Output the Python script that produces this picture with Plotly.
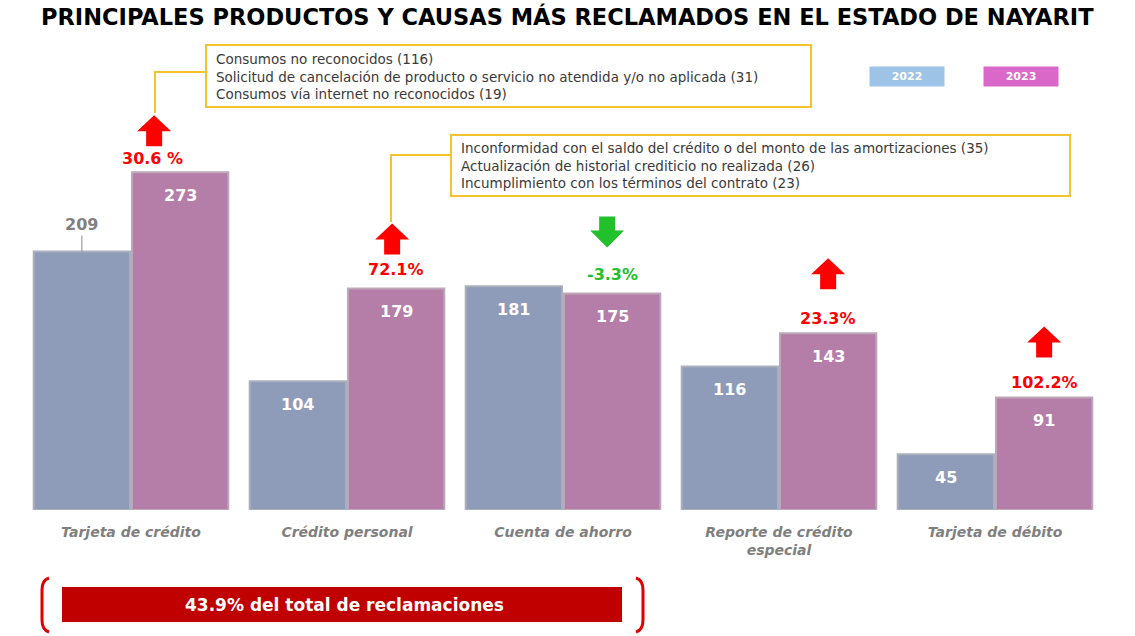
import plotly.graph_objects as go

# datos
productos = ["Tarjeta de crédito", "Crédito personal", "Cuenta de ahorro",
             "Reporte de crédito<br>especial", "Tarjeta de débito"]
reclamos_2022 = [209, 104, 181, 116, 45]
reclamos_2023 = [273, 179, 175, 143, 91]
variacion = ["30.6 %", "72.1%", "-3.3%", "23.3%", "102.2%"]
causas_tarjeta = ["Consumos no reconocidos (116)",
                  "Solicitud de cancelación de producto o servicio no atendida y/o no aplicada (31)",
                  "Consumos vía internet no reconocidos (19)"]
causas_personal = ["Inconformidad con el saldo del crédito o del monto de las amortizaciones (35)",
                   "Actualización de historial crediticio no realizada (26)",
                   "Incumplimiento con los términos del contrato (23)"]
total_txt = "43.9% del total de reclamaciones"

FONT = "DejaVu Sans"
W, H = 1135, 636
L, R, T, B = 23, 32, 40, 126
pw, ph = W - L - R, H - T - B

# ajustes de posición de flechas / porcentajes (pixeles)
pct_lift = [14, 19, 19, 15, 15]
arrow_lift = [26, 34, 46, 44, 40]
arrow_dx = [-26, -4, -5, 0, 0]


def px(x):
    return (x - L) / pw


def py(y):
    return (H - B - y) / ph


def flecha(dx, y0, arriba):
    # flecha de bloque, coordenadas en pixeles relativas al tope de la barra
    y1 = y0 + 31
    if arriba:
        pts = [(-8, y0), (8, y0), (8, y0 + 15), (17, y0 + 15), (0, y1), (-17, y0 + 15), (-8, y0 + 15)]
    else:
        pts = [(-8, y1), (8, y1), (8, y1 - 14), (17, y1 - 14), (0, y0), (-17, y1 - 14), (-8, y1 - 14)]
    return "M " + " L ".join(f"{x + dx},{y}" for x, y in pts) + " Z"


xs = list(range(len(productos)))
off = 0.2275

fig = go.Figure()
fig.add_trace(go.Bar(x=xs, y=reclamos_2022, name="2022", marker=dict(
    color="#8E9CB9", line=dict(color="#AAB0BC", width=2))))
fig.add_trace(go.Bar(x=xs, y=reclamos_2023, name="2023", marker=dict(
    color="#B57EA8", line=dict(color="#BDA8B8", width=2))))

ann = []
shapes = []

# etiquetas de valores
for i, (a, b) in enumerate(zip(reclamos_2022, reclamos_2023)):
    if i == 0:
        ann.append(dict(x=i - off, y=a, text=f"<b>{a}</b>", showarrow=True, arrowhead=0,
                        arrowcolor="#8C8C8C", arrowwidth=1, ax=0, ay=-27,
                        font=dict(size=16, color="#808080", family=FONT)))
    else:
        ann.append(dict(x=i - off, y=a, text=f"<b>{a}</b>", showarrow=False, yshift=-23,
                        font=dict(size=16, color="white", family=FONT)))
    ann.append(dict(x=i + off, y=b, text=f"<b>{b}</b>", showarrow=False, yshift=-23,
                    font=dict(size=16, color="white", family=FONT)))

    sube = b >= a
    col = "#FF0000" if sube else "#22C02A"
    ann.append(dict(x=i + off, y=b, text=f"<b>{variacion[i]}</b>", showarrow=False,
                    yshift=pct_lift[i], xshift=-28 if i == 0 else 0,
                    font=dict(size=16, color=col, family=FONT)))
    shapes.append(dict(type="path", xref="x", yref="y", xsizemode="pixel", ysizemode="pixel",
                       xanchor=i + off, yanchor=b, path=flecha(arrow_dx[i], arrow_lift[i], sube),
                       fillcolor=col, line=dict(width=0)))

# cuadros de causas
amarillo = "#F5C42C"
for (x0, y0, x1, y1), lines, (lx, ly, dx, dy) in [
        ((206, 45, 811, 107), causas_tarjeta, (206, 72, 155, 113)),
        ((451, 135, 1070, 196), causas_personal, (451, 155, 391, 222))]:
    shapes.append(dict(type="rect", xref="paper", yref="paper", x0=px(x0), x1=px(x1),
                       y0=py(y1), y1=py(y0), line=dict(color=amarillo, width=2),
                       fillcolor="white"))
    shapes.append(dict(type="path", xref="paper", yref="paper",
                       path=f"M {px(lx)},{py(ly)} L {px(dx)},{py(ly)} L {px(dx)},{py(dy)}",
                       line=dict(color=amarillo, width=2)))
    ann.append(dict(xref="paper", yref="paper", x=px(x0 + 8), y=py((y0 + y1) / 2),
                    xanchor="left", yanchor="middle", align="left", showarrow=False,
                    text="<br>".join(lines),
                    font=dict(size=13.5, color="#3A3A3A", family=FONT)))

# leyenda
for name, col, xc in [("2022", "#9DC3E6", 907), ("2023", "#D968C8", 1021)]:
    ann.append(dict(xref="paper", yref="paper", x=px(xc), y=py(77), text=f"<b>{name}</b>",
                    xanchor="center", yanchor="middle",
                    showarrow=False, bgcolor=col, width=72, height=17,
                    font=dict(size=11, color="white", family=FONT)))

# titulo
ann.append(dict(xref="paper", yref="paper", x=px(567), y=py(17), showarrow=False,
                xanchor="center", yanchor="middle",
                text="<b>PRINCIPALES PRODUCTOS Y CAUSAS MÁS RECLAMADOS EN EL ESTADO DE NAYARIT</b>",
                font=dict(size=22.5, color="black", family=FONT)))

# banda inferior
shapes.append(dict(type="rect", xref="paper", yref="paper", x0=px(62), x1=px(622),
                   y0=py(622), y1=py(587), fillcolor="#C00000", line=dict(width=0)))
ann.append(dict(xref="paper", yref="paper", x=px(344), y=py(605), showarrow=False,
                xanchor="center", yanchor="middle",
                text=f"<b>{total_txt}</b>", font=dict(size=17, color="white", family=FONT)))
shapes.append(dict(type="path", xref="paper", yref="paper",
                   path=f"M {px(49)},{py(578)} Q {px(42)},{py(580)} {px(42)},{py(590)} "
                        f"L {px(42)},{py(620)} Q {px(42)},{py(630)} {px(49)},{py(632)}",
                   line=dict(color="#E00000", width=3)))
shapes.append(dict(type="path", xref="paper", yref="paper",
                   path=f"M {px(636)},{py(578)} Q {px(643)},{py(580)} {px(643)},{py(590)} "
                        f"L {px(643)},{py(620)} Q {px(643)},{py(630)} {px(636)},{py(632)}",
                   line=dict(color="#E00000", width=3)))

fig.update_layout(
    width=W, height=H, margin=dict(l=L, r=R, t=T, b=B),
    paper_bgcolor="white", plot_bgcolor="white",
    barmode="group", bargap=0.09, bargroupgap=0.02,
    showlegend=False, annotations=ann, shapes=shapes,
    font=dict(family=FONT),
)
fig.update_xaxes(range=[-0.5, 4.5], tickvals=xs, ticktext=productos, showgrid=False,
                 zeroline=False, showline=False, ticks="", ticklabelstandoff=12,
                 tickfont=dict(size=14, color="#7F7F7F", family=FONT, style="italic", weight="bold"))
fig.update_yaxes(range=[0, 380], visible=False, showgrid=False)

fig.write_html("out.html", config={"displayModeBar": False},
               post_script="document.body.style.margin='0';")
